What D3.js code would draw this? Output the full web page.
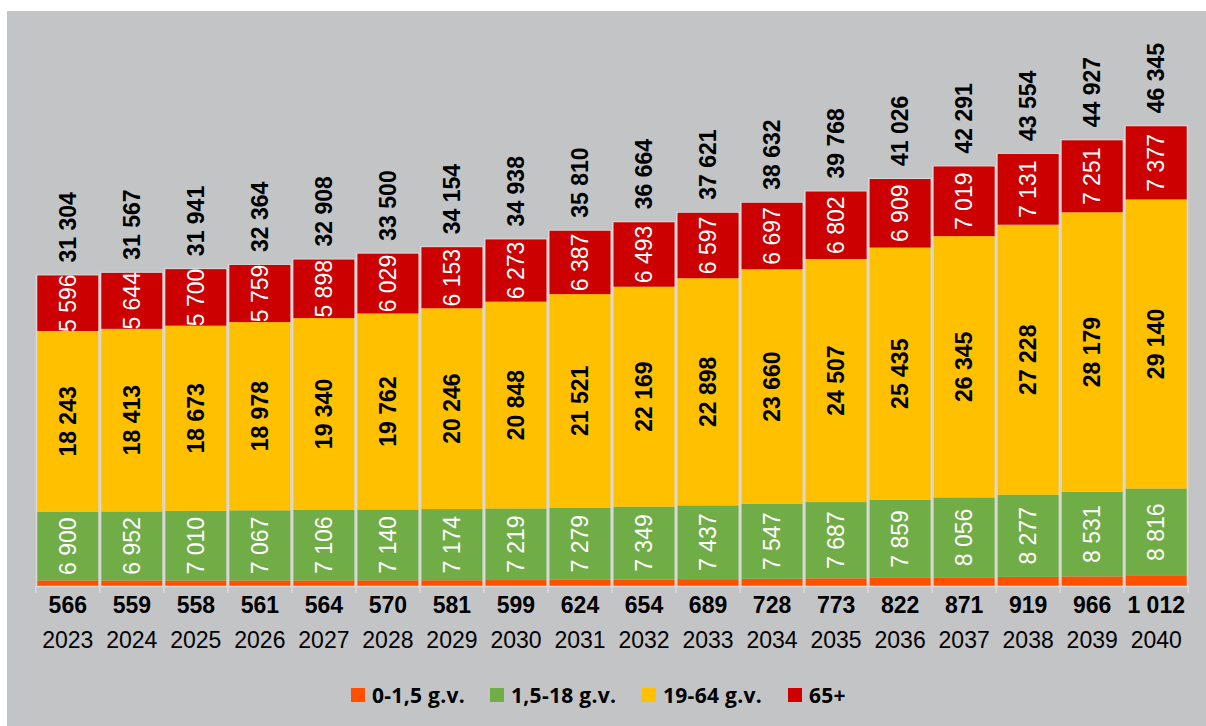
<!DOCTYPE html>
<html>
<head>
<meta charset="utf-8">
<script src="https://cdn.jsdelivr.net/npm/d3@7"></script>
<style>
  body { margin: 0; background: #fff; }
  svg { display: block; }
</style>
</head>
<body>
<div id="chart"></div>
<script>
'use strict';

// Data
const years = ['2023', '2024', '2025', '2026', '2027', '2028', '2029', '2030', '2031',
  '2032', '2033', '2034', '2035', '2036', '2037', '2038', '2039', '2040'];
const seriesNames = ['0-1,5 g.v.', '1,5-18 g.v.', '19-64 g.v.', '65+'];
const infants = [566, 559, 558, 561, 564, 570, 581, 599, 624, 654, 689, 728, 773, 822, 871, 919, 966, 1012];
const youth = [6900, 6952, 7010, 7067, 7106, 7140, 7174, 7219, 7279, 7349, 7437, 7547, 7687, 7859, 8056, 8277, 8531, 8816];
const adults = [18243, 18413, 18673, 18978, 19340, 19762, 20246, 20848, 21521, 22169, 22898, 23660, 24507, 25435, 26345, 27228, 28179, 29140];
const seniors = [5596, 5644, 5700, 5759, 5898, 6029, 6153, 6273, 6387, 6493, 6597, 6697, 6802, 6909, 7019, 7131, 7251, 7377];
const totals = [31304, 31567, 31941, 32364, 32908, 33500, 34154, 34938, 35810, 36664, 37621, 38632, 39768, 41026, 42291, 43554, 44927, 46345];

const colors = ['#ff5000', '#70ad47', '#ffc000', '#cc0000'];

const width = 1206, height = 726;
const numFont = '"Liberation Sans", Arial, sans-serif';
const fmt = d3.formatLocale({ decimal: ',', thousands: '\u00a0', grouping: [3] }).format(',d');

const svg = d3.select('#chart').append('svg')
  .attr('width', width)
  .attr('height', height);

// grey chart area
svg.append('rect')
  .attr('x', 7).attr('y', 11)
  .attr('width', width - 7).attr('height', height - 11)
  .attr('fill', '#c3c4c6');

// scales
const x = d3.scaleBand().domain(years).range([36, 1188]).paddingInner(0.047).paddingOuter(0.02);
const y = d3.scaleLinear().domain([0, 50000]).range([586, 90]);

// stacked data
const rows = years.map((yr, i) => ({ year: yr, s0: infants[i], s1: youth[i], s2: adults[i], s3: seniors[i], total: totals[i] }));
const stack = d3.stack().keys(['s0', 's1', 's2', 's3'])(rows);

const chart = svg.append('g');

// light separators between the bars
const gap = x.step() - x.bandwidth();
chart.selectAll('rect.sep')
  .data(rows)
  .join('rect')
  .classed('sep', true)
  .attr('x', d => x(d.year) - gap / 2)
  .attr('y', d => y(d.s0 + d.s1 + d.s2 + d.s3) - 1)
  .attr('width', x.step())
  .attr('height', d => y(0) - y(d.s0 + d.s1 + d.s2 + d.s3) + 1)
  .attr('fill', '#d9d9d9');

// segments
const layers = chart.selectAll('g.layer')
  .data(stack)
  .join('g')
  .classed('layer', true)
  .attr('fill', (d, i) => colors[i]);

layers.selectAll('rect')
  .data(d => d)
  .join('rect')
  .attr('x', d => x(d.data.year))
  .attr('y', d => y(d[1]))
  .attr('width', x.bandwidth())
  .attr('height', d => y(d[0]) - y(d[1]));

// axis
const axisY = y(0);
chart.append('line')
  .attr('x1', 36).attr('x2', 1188)
  .attr('y1', axisY + 0.5).attr('y2', axisY + 0.5)
  .attr('stroke', '#d9d9d9').attr('stroke-width', 1.5);

const tickXs = years.map(yr => x(yr) - gap / 2).concat([x(years[years.length - 1]) + x.bandwidth() + gap / 2]);
chart.selectAll('line.tick')
  .data(tickXs)
  .join('line')
  .classed('tick', true)
  .attr('x1', d => d).attr('x2', d => d)
  .attr('y1', axisY).attr('y2', axisY + 7)
  .attr('stroke', '#d9d9d9').attr('stroke-width', 1.5);

// inside labels (rotated)
const labelStyles = [null,
  { fill: '#fff', weight: 'normal' },
  { fill: '#000', weight: 'bold' },
  { fill: '#fff', weight: 'normal' }];

stack.forEach((layer, li) => {
  const st = labelStyles[li];
  if (!st) return;
  chart.append('g').selectAll('text')
    .data(layer)
    .join('text')
    .attr('transform', d => `translate(${x(d.data.year) + x.bandwidth() / 2},${(y(d[0]) + y(d[1])) / 2}) rotate(-90)`)
    .attr('text-anchor', 'middle')
    .attr('dy', '0.36em')
    .attr('font-family', numFont)
    .attr('font-size', 23)
    .attr('font-weight', st.weight)
    .attr('fill', st.fill)
    .text(d => fmt(d[1] - d[0]));
});

// totals above bars
chart.append('g').selectAll('text')
  .data(rows)
  .join('text')
  .attr('transform', d => `translate(${x(d.year) + x.bandwidth() / 2},${y(d.s0 + d.s1 + d.s2 + d.s3) - 13}) rotate(-90)`)
  .attr('text-anchor', 'start')
  .attr('dy', '0.36em')
  .attr('font-family', numFont)
  .attr('font-size', 23)
  .attr('font-weight', 'bold')
  .attr('fill', '#000')
  .text(d => fmt(d.total));

// infant values under the axis
chart.append('g').selectAll('text')
  .data(rows)
  .join('text')
  .attr('x', d => x(d.year) + x.bandwidth() / 2)
  .attr('y', 613)
  .attr('text-anchor', 'middle')
  .attr('font-family', numFont)
  .attr('font-size', 23)
  .attr('font-weight', 'bold')
  .text(d => fmt(d.s0));

// year labels
chart.append('g').selectAll('text')
  .data(years)
  .join('text')
  .attr('x', d => x(d) + x.bandwidth() / 2)
  .attr('y', 648)
  .attr('text-anchor', 'middle')
  .attr('font-family', numFont)
  .attr('font-size', 23)
  .text(d => d);

// legend
const legendX = [351, 490, 642, 788];
const legend = svg.append('g').selectAll('g')
  .data(seriesNames)
  .join('g')
  .attr('transform', (d, i) => `translate(${legendX[i]},688)`);

legend.append('rect')
  .attr('width', 14).attr('height', 14)
  .attr('fill', (d, i) => colors[i]);

legend.append('text')
  .attr('x', 21).attr('y', 14.5)
  .attr('font-family', '"Open Sans", Lato, sans-serif')
  .attr('font-size', 21)
  .attr('font-weight', 'bold')
  .attr('letter-spacing', 0.3)
  .attr('fill', '#000')
  .text(d => d);
</script>
</body>
</html>
